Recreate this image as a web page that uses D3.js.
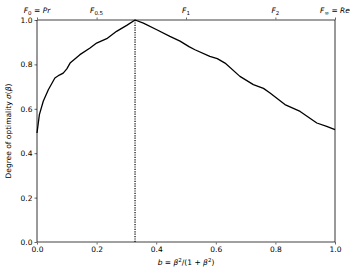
<!DOCTYPE html>
<html>
<head>
<meta charset="utf-8">
<script src="https://cdn.jsdelivr.net/npm/d3@7"></script>
<style>
  body { margin: 0; background: #fff; }
  text { font-family: "DejaVu Sans", sans-serif; }
</style>
</head>
<body>
<div id="chart"></div>
<script>
// curve: b and sigma
var bValues = [0, 0.008, 0.021, 0.038, 0.060, 0.075, 0.088, 0.100, 0.111, 0.144, 0.178, 0.200, 0.234, 0.267, 0.301, 0.329,
  0.357, 0.402, 0.446, 0.480, 0.510, 0.530, 0.580, 0.605, 0.631, 0.681, 0.726, 0.760, 0.782, 0.832, 0.883, 0.939, 0.972, 1.0];
var sigmaValues = [0.491, 0.574, 0.634, 0.686, 0.739, 0.752, 0.761, 0.780, 0.806, 0.844, 0.874, 0.896, 0.916, 0.949, 0.976, 1.0,
  0.986, 0.956, 0.926, 0.905, 0.880, 0.866, 0.836, 0.826, 0.806, 0.746, 0.709, 0.692, 0.671, 0.619, 0.588, 0.536, 0.521, 0.506];
var optimumB = 0.329;

var xTicks = [0, 0.2, 0.4, 0.6, 0.8, 1.0];
var yTicks = [0, 0.2, 0.4, 0.6, 0.8, 1.0];
var topTicks = [0, 0.2, 0.5, 0.8, 1.0];
var topLabels = ["F<sub>0</sub> = Pr", "F<sub>0.5</sub>", "F<sub>1</sub>", "F<sub>2</sub>", "F<sub>∞</sub> = Re"];

var svgWidth = 357, svgHeight = 276;
var margin = { top: 20, right: 22, bottom: 34, left: 37 };
var width = svgWidth - margin.left - margin.right;
var height = svgHeight - margin.top - margin.bottom;
var fs = 7.5;

var svg = d3.select("#chart").append("svg")
  .attr("width", svgWidth)
  .attr("height", svgHeight);

var g = svg.append("g")
  .attr("transform", `translate(${margin.left}, ${margin.top})`);

var x = d3.scaleLinear().domain([0, 1]).range([0, width]);
var y = d3.scaleLinear().domain([0, 1]).range([height, 0]);

var fmt = d3.format(".1f");

function styleAxis(sel) {
  sel.selectAll("text").attr("font-size", fs).attr("fill", "#000");
  sel.selectAll(".tick line").attr("stroke", "#000").attr("stroke-width", 0.6);
  sel.select(".domain").remove();
}

g.append("g")
  .attr("transform", `translate(0, ${height})`)
  .call(d3.axisBottom(x).tickValues(xTicks).tickFormat(fmt).tickSize(2.5).tickPadding(2))
  .call(styleAxis);

g.append("g")
  .call(d3.axisLeft(y).tickValues(yTicks).tickFormat(fmt).tickSize(2.5).tickPadding(2))
  .call(styleAxis);

g.append("g")
  .call(d3.axisTop(x).tickValues(topTicks).tickFormat("").tickSize(2.5))
  .call(styleAxis);

// top labels with subscripts
g.selectAll(".toplabel")
  .data(topTicks)
  .enter()
  .append("text")
  .attr("class", "toplabel")
  .attr("x", d => x(d))
  .attr("y", -7)
  .attr("text-anchor", "middle")
  .attr("font-size", fs)
  .attr("font-style", "italic")
  .each(function(d, i) {
    var t = d3.select(this);
    var parts = topLabels[i].split(/<sub>|<\/sub>/);
    t.append("tspan").text(parts[0]);
    t.append("tspan").attr("font-size", 5.5).attr("dy", 1.5).attr("font-style", "normal").text(parts[1]);
    if (parts[2]) t.append("tspan").attr("dy", -1.5).text(parts[2]);
  });

// spines
g.append("line").attr("x1", 0).attr("x2", width).attr("y1", 0).attr("y2", 0)
  .attr("stroke", "#808080").attr("stroke-width", 1.5);
g.append("line").attr("x1", 0).attr("x2", width).attr("y1", height).attr("y2", height)
  .attr("stroke", "#808080").attr("stroke-width", 1.5);
g.append("line").attr("x1", 0).attr("x2", 0).attr("y1", 0).attr("y2", height)
  .attr("stroke", "#000").attr("stroke-width", 0.8);
g.append("line").attr("x1", width).attr("x2", width).attr("y1", 0).attr("y2", height)
  .attr("stroke", "#000").attr("stroke-width", 0.8);

// optimum line
g.append("line")
  .attr("x1", x(optimumB)).attr("x2", x(optimumB))
  .attr("y1", y(0)).attr("y2", y(1))
  .attr("stroke", "#000")
  .attr("stroke-width", 1.2)
  .attr("stroke-dasharray", "1.2,1.2");

var line = d3.line()
  .x((d, i) => x(bValues[i]))
  .y(d => y(d));

g.append("path")
  .datum(sigmaValues)
  .attr("fill", "none")
  .attr("stroke", "#000")
  .attr("stroke-width", 1.3)
  .attr("stroke-linejoin", "round")
  .attr("d", line);

// axis labels
var xLabel = g.append("text")
  .attr("x", width / 2)
  .attr("y", height + 23)
  .attr("text-anchor", "middle")
  .attr("font-size", fs);
xLabel.append("tspan").attr("font-style", "italic").text("b");
xLabel.append("tspan").text(" = ");
xLabel.append("tspan").attr("font-style", "italic").text("β");
xLabel.append("tspan").attr("font-size", 5.5).attr("dy", -3).text("2");
xLabel.append("tspan").attr("dy", 3).text("/(1 + ");
xLabel.append("tspan").attr("font-style", "italic").text("β");
xLabel.append("tspan").attr("font-size", 5.5).attr("dy", -3).text("2");
xLabel.append("tspan").attr("dy", 3).text(")");

var yLabel = g.append("text")
  .attr("transform", `translate(-26, ${height / 2}) rotate(-90)`)
  .attr("text-anchor", "middle")
  .attr("font-size", fs);
yLabel.append("tspan").text("Degree of optimality ");
yLabel.append("tspan").attr("font-style", "italic").text("σ");
yLabel.append("tspan").text("(");
yLabel.append("tspan").attr("font-style", "italic").text("β");
yLabel.append("tspan").text(")");
</script>
</body>
</html>
